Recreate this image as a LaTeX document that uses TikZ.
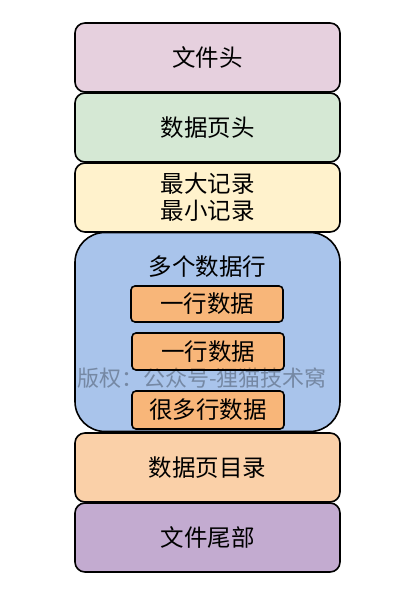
\documentclass[tikz,border=0pt]{standalone}
\usepackage{fontspec}
\setmainfont{Noto Sans CJK SC}
\definecolor{c1}{HTML}{E6D0DE}
\definecolor{c2}{HTML}{D5E8D4}
\definecolor{c3}{HTML}{FFF2CC}
\definecolor{c4}{HTML}{A9C4EB}
\definecolor{c5}{HTML}{FAD0A8}
\definecolor{c6}{HTML}{C3ABD0}
\definecolor{cin}{HTML}{F8B679}
\begin{document}
\begin{tikzpicture}[x=1pt,y=1pt,
  layer/.style={draw=black,line width=1.6pt,rounded corners=10pt,minimum width=265pt,minimum height=69pt,inner sep=0pt,font=\fontsize{23.5}{27}\selectfont,align=center},
  rowbox/.style={draw=black,line width=1.6pt,rounded corners=4pt,fill=cin,minimum width=152pt,inner sep=0pt,font=\fontsize{23.5}{24}\selectfont},
  mark/.style={}]
\useasboundingbox (0,0) rectangle (402,614);
\node[layer,fill=c1] (fh) at (207.5,556.5) {文件头};
\node[layer,fill=c2] (ph) at (207.5,486.5) {数据页头};
\node[layer,fill=c3] (mm) at (207.5,416.5) {最大记录\\最小记录};
\node[layer,fill=c4,minimum height=199pt,rounded corners=30pt] (rows) at (207.5,282) {};
\node[font=\fontsize{23.5}{24}\selectfont] (rt) at (207.5,347) {多个数据行};
\node[rowbox,minimum height=36pt] (r1) at (207,310) {一行数据};
\node[rowbox,minimum height=37pt] (r2) at (208,262.5) {一行数据};
\node[rowbox,minimum height=38pt] (r3) at (208,204) {很多行数据};
\node[font=\fontsize{22}{24}\selectfont,text=black,text opacity=0.3] (wm) at (202,236) {版权：公众号-狸猫技术窝};
\node[layer,fill=c5] (dir) at (207.5,146.5) {数据页目录};
\node[layer,fill=c6] (ft) at (207.5,76.5) {文件尾部};
\end{tikzpicture}
\end{document}
